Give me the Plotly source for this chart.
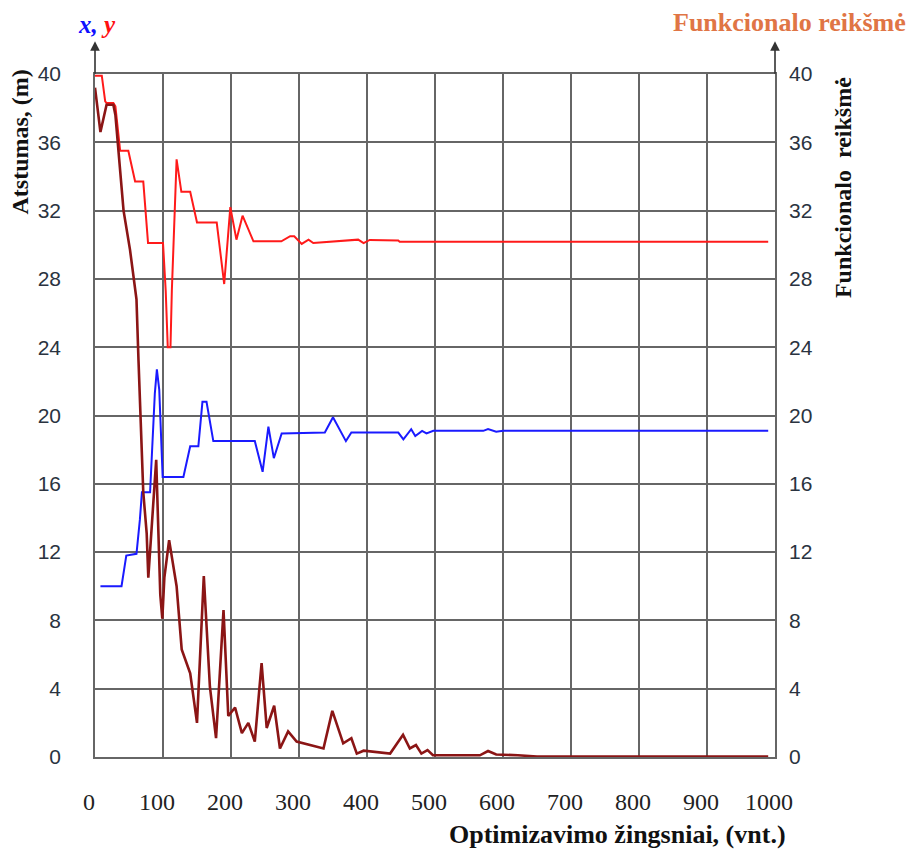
import plotly.graph_objects as go

# ---- data ----
y_steps = [0, 10, 15, 17, 27, 30, 37, 49, 59, 71, 78, 100, 104, 107, 111, 113, 120, 127, 140, 150,
           179, 190, 199, 208, 217, 233, 274, 287, 293, 304, 314, 321, 387, 395, 404, 446, 448, 990]
y_vals = [39.9, 39.9, 38.4, 38.3, 38.3, 38.1, 35.5, 35.5, 33.7, 33.7, 30.1, 30.1, 27.3, 24.0, 24.0, 27.3,
          35.0, 33.1, 33.1, 31.3, 31.3, 27.7, 32.2, 30.3, 31.7, 30.2, 30.2, 30.5, 30.5, 30.05, 30.3, 30.1,
          30.3, 30.1, 30.28, 30.25, 30.18, 30.18]

x_steps = [8, 39, 46, 61, 66, 69, 81, 88, 91, 94.5, 99.5, 130, 140, 152, 158, 164, 174, 235, 246.5, 255,
           263, 274.5, 338, 350, 369, 377, 446, 453.5, 465, 471, 481, 487.5, 497.5, 571, 578, 590, 600, 990]
x_vals = [10.0, 10.0, 11.8, 11.9, 13.9, 15.5, 15.5, 21.3, 22.7, 21.5, 16.4, 16.4, 18.2, 18.2, 20.8, 20.8,
          18.5, 18.5, 16.7, 19.35, 17.5, 18.95, 19.0, 19.9, 18.5, 19.0, 19.0, 18.6, 19.2, 18.8, 19.1, 18.95,
          19.1, 19.1, 19.2, 19.05, 19.1, 19.1]

f_steps = [0, 8, 17, 27, 30, 42, 51.5, 61, 64, 69, 71, 76, 78.4, 90, 96, 99, 102, 109, 120, 127.5, 140,
           150, 160, 169, 178, 189, 196, 206, 216, 225.5, 235, 245, 252.5, 263.5, 272, 284, 296.5, 336,
           349, 365, 377, 385, 395, 434, 453, 463, 472, 480, 489, 497, 566, 578, 590, 622, 650, 990]
f_vals = [39.2, 36.6, 38.2, 38.2, 37.6, 32.0, 29.7, 26.8, 23.2, 17.4, 15.5, 13.1, 10.5, 17.4, 9.5, 8.1,
          10.5, 12.7, 10.0, 6.3, 4.9, 2.0, 10.6, 4.1, 1.1, 8.6, 2.4, 2.9, 1.4, 2.0, 0.9, 5.5, 1.7, 3.0,
          0.5, 1.5, 0.9, 0.5, 2.7, 0.8, 1.1, 0.2, 0.37, 0.2, 1.3, 0.5, 0.7, 0.2, 0.4, 0.1, 0.1, 0.35,
          0.15, 0.1, 0.03, 0.03]

x_ticks = list(range(0, 1001, 100))
y_ticks = list(range(0, 41, 4))

GRID = "#666666"
SERIF = "Liberation Serif"

fig = go.Figure()
fig.add_trace(go.Scatter(x=f_steps, y=f_vals, mode="lines", yaxis="y2",
                         line=dict(color="#8b1515", width=2.6), name="Funkcionalo reikšmė"))
fig.add_trace(go.Scatter(x=x_steps, y=x_vals, mode="lines",
                         line=dict(color="#1a1aff", width=2), name="x"))
fig.add_trace(go.Scatter(x=y_steps, y=y_vals, mode="lines",
                         line=dict(color="#ff1a1a", width=2), name="y"))

fig.update_layout(
    width=913, height=850,
    margin=dict(l=95, r=138, t=74, b=93),
    paper_bgcolor="white", plot_bgcolor="white",
    showlegend=False,
    xaxis=dict(range=[0, 1000], tickvals=x_ticks, ticktext=[str(v) for v in x_ticks],
               showgrid=True, gridcolor=GRID, gridwidth=1.6, zeroline=False,
               showline=True, linecolor=GRID, linewidth=1.6, mirror=True,
               ticks="", ticklabelstandoff=22, ticklabelshift=-6,
               tickfont=dict(family=SERIF, size=24, color="#222222")),
    yaxis=dict(range=[0, 40], tickvals=y_ticks, showgrid=True, gridcolor=GRID, gridwidth=1.6,
               zeroline=False, showline=True, linecolor=GRID, linewidth=1.6, ticks="",
               ticklabelstandoff=28,
               tickfont=dict(family="Liberation Sans", size=21, color="#2a3340")),
    yaxis2=dict(range=[0, 40], tickvals=y_ticks, overlaying="y", side="right", showgrid=False,
                zeroline=False, showline=True, linecolor=GRID, linewidth=1.6, ticks="",
                ticklabelstandoff=8,
                tickfont=dict(family="Liberation Sans", size=21, color="#2a3340")),
)

# axis arrows above the plot
for xp in (0, 1):
    fig.add_annotation(x=xp, y=1.048, xref="paper", yref="paper", ax=0, ay=34,
                       showarrow=True, arrowhead=2, arrowsize=1.2, arrowwidth=1.6,
                       arrowcolor="#333333", text="")

# texts
fig.add_annotation(x=0.003, y=1.072, xref="paper", yref="paper", showarrow=False,
                   text="<b><i><span style='color:#1010ff'>x,</span> <span style='color:#ff1010'>y</span></i></b>",
                   font=dict(family=SERIF, size=25), xanchor="center", yanchor="middle")
fig.add_annotation(x=1.0206, y=1.076, xref="paper", yref="paper", showarrow=False,
                   text="<b>Funkcionalo reikšmė</b>", font=dict(family=SERIF, size=26, color="#e07545"),
                   xanchor="center", yanchor="middle")
fig.add_annotation(x=-0.11, y=0.90, xref="paper", yref="paper", showarrow=False, textangle=-90,
                   text="<b>Atstumas, (m)</b>", font=dict(family=SERIF, size=24, color="#111111"),
                   xanchor="center", yanchor="middle")
fig.add_annotation(x=1.1, y=0.833, xref="paper", yref="paper", showarrow=False, textangle=-90,
                   text="<b>Funkcionalo  reikšmė</b>", font=dict(family=SERIF, size=24, color="#111111"),
                   xanchor="center", yanchor="middle")
fig.add_annotation(x=0.768, y=-0.114, xref="paper", yref="paper", showarrow=False,
                   text="<b>Optimizavimo žingsniai, (vnt.)</b>",
                   font=dict(family=SERIF, size=26, color="#111111"),
                   xanchor="center", yanchor="middle")

fig.write_html("out.html", post_script="document.body.style.margin='0';",
               config={"displayModeBar": False})
